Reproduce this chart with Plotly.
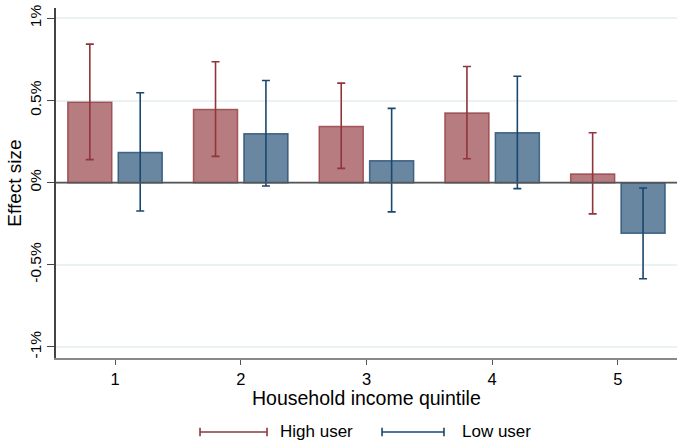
import plotly.graph_objects as go

# household income quintiles
quintiles = [1, 2, 3, 4, 5]

# effect sizes (in %) with 95% CI bounds
high_user = [0.49, 0.446, 0.342, 0.424, 0.053]
high_lo = [0.14, 0.16, 0.087, 0.146, -0.19]
high_hi = [0.843, 0.736, 0.606, 0.707, 0.304]

low_user = [0.184, 0.298, 0.134, 0.304, -0.308]
low_lo = [-0.172, -0.02, -0.178, -0.036, -0.585]
low_hi = [0.547, 0.622, 0.452, 0.648, -0.032]

y_ticks = [-1, -0.5, 0, 0.5, 1]
y_ticktext = ['-1%', '-0.5%', '0%', '0.5%', '1%']

RED = 'rgb(144,53,59)'
BLUE = 'rgb(26,71,111)'
RED_FILL = 'rgba(144,53,59,0.65)'
BLUE_FILL = 'rgba(26,71,111,0.65)'
FONT = 'Liberation Sans, Arial, Helvetica, sans-serif'

fig = go.Figure()

fig.add_trace(go.Bar(
    x=quintiles, y=high_user, name='High user',
    width=0.35, offset=-0.376,
    marker=dict(color=RED_FILL, line=dict(color='rgba(144,53,59,0.75)', width=1.5)),
    error_y=dict(type='data', symmetric=False,
                 array=[h - v for h, v in zip(high_hi, high_user)],
                 arrayminus=[v - l for l, v in zip(high_lo, high_user)],
                 color=RED, thickness=1.6, width=4),
    showlegend=False
))
fig.add_trace(go.Bar(
    x=quintiles, y=low_user, name='Low user',
    width=0.35, offset=0.025,
    marker=dict(color=BLUE_FILL, line=dict(color='rgba(26,71,111,0.75)', width=1.5)),
    error_y=dict(type='data', symmetric=False,
                 array=[h - v for h, v in zip(low_hi, low_user)],
                 arrayminus=[v - l for l, v in zip(low_lo, low_user)],
                 color=BLUE, thickness=1.6, width=4),
    showlegend=False
))

# zero reference line
fig.add_shape(type='line', xref='paper', yref='y', x0=0, x1=1, y0=0, y1=0,
              line=dict(color='#555555', width=1.6), layer='above')

# x axis title placed directly under the tick labels
fig.add_annotation(text='Household income quintile', xref='paper', yref='paper',
                   x=0.5, y=-0.113, xanchor='center', yanchor='middle', showarrow=False,
                   font=dict(size=19.5, color='black', family=FONT))

# legend drawn by hand: horizontal capped lines + labels
leg_y = -0.2114
cap = 0.012
for x0, x1, col, label, tx in [(0.2319, 0.3398, RED, 'High user', 0.357),
                               (0.5250, 0.6248, BLUE, 'Low user', 0.6506)]:
    fig.add_shape(type='line', xref='paper', yref='paper', x0=x0, x1=x1, y0=leg_y, y1=leg_y,
                  line=dict(color=col, width=1.6))
    for xc in (x0, x1):
        fig.add_shape(type='line', xref='paper', yref='paper', x0=xc, x1=xc,
                      y0=leg_y - cap, y1=leg_y + cap, line=dict(color=col, width=1.6))
    fig.add_annotation(text=label, xref='paper', yref='paper', x=tx, y=leg_y,
                       xanchor='left', yanchor='middle', showarrow=False,
                       font=dict(size=17, color='black', family=FONT))

fig.update_layout(
    width=677, height=443,
    margin=dict(l=56, r=0, t=8, b=85),
    plot_bgcolor='white', paper_bgcolor='white',
    font=dict(family=FONT, color='black'),
    barmode='overlay',
    xaxis=dict(
        range=[0.53, 5.47], tickvals=quintiles, ticks='outside', ticklen=5,
        tickcolor='#555', tickfont=dict(size=16.5), showline=True, linecolor='#888',
        linewidth=2, showgrid=False, zeroline=False, automargin=False
    ),
    yaxis=dict(
        range=[-1.067, 1.063], tickvals=y_ticks, ticktext=y_ticktext, tickangle=-90,
        ticks='outside', ticklen=7, tickcolor='#444', tickfont=dict(size=15.5),
        showline=True, linecolor='#444', linewidth=1.5, automargin=False,
        showgrid=True, gridcolor='#eaf2f3', gridwidth=1.5, zeroline=False,
        title=dict(text='Effect size', font=dict(size=19), standoff=0)
    ),
)

# drop the page's default body margin so the figure fills the window
fig.write_html("out.html", config={'displayModeBar': False},
               post_script="document.body.style.margin='0';")
